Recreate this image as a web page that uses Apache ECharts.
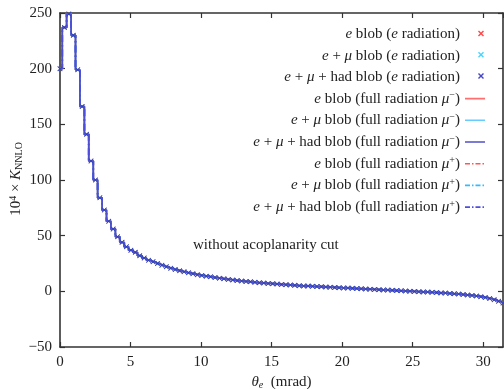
<!DOCTYPE html>
<html>
<head>
<meta charset="utf-8">
<script src="https://cdn.jsdelivr.net/npm/echarts@6/dist/echarts.min.js"></script>
<style>
html,body{margin:0;padding:0;background:#fff;}
#c{width:504px;height:389px;}
</style>
</head>
<body>
<div id="c"></div>
<script>
// ---- data ----
const binWidth = 0.314; // mrad, spacing of the histogram points
const kNNLO = [200,237,249,230,199,166,141,117,100,84,73,63,56,49,44,40,37,35,32,30,
  28,26.5,25,23.5,22,20.8,19.6,18.5,17.5,16.6,15.8,15.0,14.3,13.6,13.0,12.4,11.8,11.2,10.7,10.2,
  9.7,9.3,8.9,8.5,8.1,7.7,7.4,7.1,6.8,6.5,6.2,5.9,5.6,5.4,5.1,4.9,4.7,4.5,4.3,4.1,
  3.9,3.7,3.5,3.3,3.1,2.9,2.7,2.5,2.3,2.1,1.9,1.7,1.5,1.3,1.1,0.9,0.7,0.5,0.3,0.1,
  -0.1,-0.3,-0.5,-0.7,-0.9,-1.1,-1.4,-1.6,-1.9,-2.2,-2.5,-2.9,-3.3,-3.7,-4.2,-4.8,-5.5,-6.4,-7.5,-8.9,-10.5];
const xTicks = [0,5,10,15,20,25,30];
const yTicks = [-50,0,50,100,150,200,250];
const seriesNames = {
  eE:   'e blob (e radiation)',
  emE:  'e+mu blob (e radiation)',
  emhE: 'e+mu+had blob (e radiation)',
  eM:   'e blob (full radiation mu-)',
  emM:  'e+mu blob (full radiation mu-)',
  emhM: 'e+mu+had blob (full radiation mu-)',
  eP:   'e blob (full radiation mu+)',
  emP:  'e+mu blob (full radiation mu+)',
  emhP: 'e+mu+had blob (full radiation mu+)'
};
const legendLabels = {
  eE:   '{i|e} blob ({i|e} radiation)',
  emE:  '{i|e} + {i|μ} blob ({i|e} radiation)',
  emhE: '{i|e} + {i|μ} + had blob ({i|e} radiation)',
  eM:   '{i|e} blob (full radiation {i|μ}{sup|−})',
  emM:  '{i|e} + {i|μ} blob (full radiation {i|μ}{sup|−})',
  emhM: '{i|e} + {i|μ} + had blob (full radiation {i|μ}{sup|−})',
  eP:   '{i|e} blob (full radiation {i|μ}{sup|+})',
  emP:  '{i|e} + {i|μ} blob (full radiation {i|μ}{sup|+})',
  emhP: '{i|e} + {i|μ} + had blob (full radiation {i|μ}{sup|+})'
};
const annotation = 'without acoplanarity cut';

// ---- build ----
const pts = kNNLO.map((v, i) => [+(i * binWidth).toFixed(4), v]);
const FONT = '"Liberation Serif", "DejaVu Serif", serif';
const AX = '#333';
const crossPath = 'path://M0,1L1,0L5,4L9,0L10,1L6,5L10,9L9,10L5,6L1,10L0,9L4,5Z';
const pad = 'M0,0L0.01,0L0,0.01Z M20,0L20.01,0L20,0.01Z M0,14L0.01,14L0,14.01Z M20,14L20.01,14L20,14.01Z ';
const crossLegend = 'path://' + pad + 'M13,4L14,3L16,5L18,3L19,4L17,6L19,8L18,9L16,7L14,9L13,8L15,6Z';
const solidLegend = 'path://' + pad + 'M0,6.2L20,6.2L20,7.8L0,7.8Z';
const dashDotLegend = 'path://' + pad + 'M0,6.2L5,6.2L5,7.8L0,7.8Z M7,6.2L8.5,6.2L8.5,7.8L7,7.8Z M10.5,6.2L15.5,6.2L15.5,7.8L10.5,7.8Z M17.5,6.2L19,6.2L19,7.8L17.5,7.8Z';
const dashDot = [7, 3, 1.5, 3];

function lineS(key, color, type) {
  return { name: seriesNames[key], type: 'line', step: 'middle', data: pts, symbol: 'none',
    lineStyle: { color: color, width: 1.8, type: type }, itemStyle: { color: color },
    z: 2, animation: false };
}
function scatS(key, color) {
  return { name: seriesNames[key], type: 'scatter', data: pts, symbol: crossPath, symbolSize: 5,
    itemStyle: { color: color }, z: 3, animation: false };
}

const chart = echarts.init(document.getElementById('c'), null, { renderer: 'canvas' });
const order = ['eE','emE','emhE','eM','emM','emhM','eP','emP','emhP'];
const colors = { eE:'#ff1a1a', emE:'#1ec8ff', emhE:'#1a1ab8',
  eM:'#ff6f6f', emM:'#66ccff', emhM:'#5050c8', eP:'#ff5555', emP:'#33bbff', emhP:'#4d4de0' };
const iconFor = { eE: crossLegend, emE: crossLegend, emhE: crossLegend,
  eM: solidLegend, emM: solidLegend, emhM: solidLegend,
  eP: dashDotLegend, emP: dashDotLegend, emhP: dashDotLegend };

const axisCommon = {
  axisLine: { show: true, onZero: false, lineStyle: { color: AX, width: 1.6 } },
  axisTick: { show: true, inside: true, length: 5, lineStyle: { color: AX, width: 1.2 } },
  splitLine: { show: false }
};

chart.setOption({
  animation: false,
  backgroundColor: '#fff',
  grid: { left: 60, right: 1, top: 13, bottom: 42, containLabel: false, outerBoundsMode: 'none' },
  legend: {
    orient: 'vertical', right: 14, top: 22, align: 'right',
    itemWidth: 20, itemHeight: 14, itemGap: 6.2,
    textStyle: { fontFamily: FONT, fontSize: 15, color: '#222',
      rich: {
        i: { fontFamily: FONT, fontStyle: 'italic', fontSize: 15, color: '#222' },
        sup: { fontFamily: FONT, fontSize: 10, color: '#222', verticalAlign: 'top', padding: [0,0,6,0] }
      } },
    formatter: function (name) {
      for (const k in seriesNames) if (seriesNames[k] === name) return legendLabels[k];
      return name;
    },
    data: order.map(k => ({ name: seriesNames[k], icon: iconFor[k],
      itemStyle: { color: colors[k], borderWidth: 0 } }))
  },
  xAxis: [
    Object.assign({}, axisCommon, {
      type: 'value', min: 0, max: 31.4, interval: 5, position: 'bottom',
      axisLabel: { show: true, fontFamily: FONT, fontSize: 15, color: '#222', margin: 8,
        showMaxLabel: false,
        formatter: v => (xTicks.indexOf(v) >= 0 ? String(v) : '') },
      name: '{i|θ}{sub|e}  (mrad)', nameLocation: 'middle', nameGap: 24,
      nameTextStyle: { fontFamily: FONT, fontSize: 15, color: '#222',
        rich: { i: { fontFamily: FONT, fontStyle: 'italic', fontSize: 15, color: '#222' },
                sub: { fontFamily: FONT, fontStyle: 'italic', fontSize: 10, color: '#222', verticalAlign: 'bottom', padding: [6,0,0,0] } } }
    }),
    Object.assign({}, axisCommon, {
      type: 'value', min: 0, max: 31.4, interval: 5, position: 'top',
      axisLabel: { show: false }
    })
  ],
  yAxis: [
    Object.assign({}, axisCommon, {
      type: 'value', min: -50, max: 250, interval: 50, position: 'left',
      axisLabel: { show: true, fontFamily: FONT, fontSize: 15, color: '#222', margin: 8,
        formatter: v => (v < 0 ? '−' + Math.abs(v) : String(v)) },
      name: '10{sup|4} × {i|K}{sub|NNLO}', nameLocation: 'middle', nameGap: 36, nameRotate: 90,
      nameMoveOverlap: false,
      nameTextStyle: { fontFamily: FONT, fontSize: 15, color: '#222', padding: [0, 0, 0, 2],
        rich: { i: { fontFamily: FONT, fontStyle: 'italic', fontSize: 15, color: '#222' },
                sup: { fontFamily: FONT, fontSize: 10, color: '#222', verticalAlign: 'top', padding: [0,0,6,0] },
                sub: { fontFamily: FONT, fontSize: 10, color: '#222', verticalAlign: 'bottom', padding: [6,0,0,0] } } }
    }),
    Object.assign({}, axisCommon, {
      type: 'value', min: -50, max: 250, interval: 50, position: 'right',
      axisLabel: { show: false }
    })
  ],
  graphic: [{
    type: 'text', left: 193, top: 238,
    style: { text: annotation, fontFamily: FONT, fontSize: 15, fill: '#222' }
  }],
  series: [
    lineS('eM', colors.eM, 'solid'),
    lineS('eP', colors.eP, dashDot),
    lineS('emM', colors.emM, 'solid'),
    lineS('emP', colors.emP, dashDot),
    lineS('emhM', colors.emhM, 'solid'),
    lineS('emhP', colors.emhP, dashDot),
    scatS('eE', colors.eE),
    scatS('emE', colors.emE),
    scatS('emhE', colors.emhE)
  ]
});
</script>
</body>
</html>
